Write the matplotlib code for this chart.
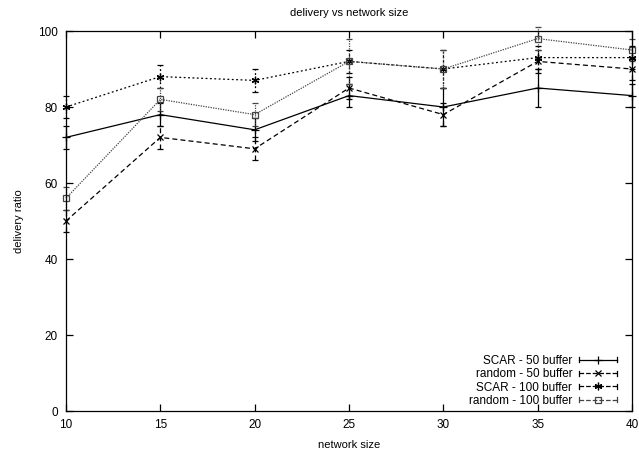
import matplotlib
matplotlib.use("Agg")
import matplotlib.pyplot as plt
from matplotlib.lines import Line2D
from matplotlib.legend_handler import HandlerBase

plt.rcParams['font.family'] = ['Liberation Sans', 'DejaVu Sans']

network_size = [10, 15, 20, 25, 30, 35, 40]
scar_50 = [72, 78, 74, 83, 80, 85, 83]
scar_50_err = [3, 3, 3, 3, 5, 5, 3]
random_50 = [50, 72, 69, 85, 78, 92, 90]
random_50_err = [3, 3, 3, 3, 3, 3, 3]
scar_100 = [80, 88, 87, 92, 90, 93, 93]
scar_100_err = [3, 3, 3, 3, 5, 3, 3]
random_100 = [56, 82, 78, 92, 90, 98, 95]
random_100_err = [3, 3, 3, 6, 5, 3, 3]
labels = ["SCAR - 50 buffer", "random - 50 buffer", "SCAR - 100 buffer", "random - 100 buffer"]


class GnuplotErrHandler(HandlerBase):
    def create_artists(self, legend, orig_handle, xdescent, ydescent, width, height, fontsize, trans):
        y = height / 2 - ydescent
        x0, x1 = -xdescent, -xdescent + width
        props = dict(color=orig_handle.get_color(), linewidth=orig_handle.get_linewidth(),
                     linestyle=orig_handle.get_linestyle(), transform=trans)
        line = Line2D([x0, x1], [y, y], **props)
        cap_h = height * 0.3
        c1 = Line2D([x0, x0], [y - cap_h, y + cap_h], color=orig_handle.get_color(),
                    linewidth=orig_handle.get_linewidth(), transform=trans)
        c2 = Line2D([x1, x1], [y - cap_h, y + cap_h], color=orig_handle.get_color(),
                    linewidth=orig_handle.get_linewidth(), transform=trans)
        mk = Line2D([(x0 + x1) / 2], [y], marker=orig_handle.get_marker(),
                    markersize=orig_handle.get_markersize(), markerfacecolor='none',
                    markeredgecolor=orig_handle.get_color(),
                    markeredgewidth=orig_handle.get_markeredgewidth(),
                    linestyle='none', transform=trans)
        return [line, c1, c2, mk]


fig = plt.figure(figsize=(6.39, 4.55), dpi=100)
ax = fig.add_axes([66/639, 1-411/455, (632-66)/639, (411-31)/455])

series = [
    (scar_50, scar_50_err, '-', '+', 'black', 6),
    (random_50, random_50_err, (0, (4, 2.5)), 'x', 'black', 4.5),
    (scar_100, scar_100_err, (0, (1.5, 2)), (6, 2, 0), 'black', 5.5),
    (random_100, random_100_err, (0, (1, 1)), 's', '#444444', 5),
]
proxies = []
for (vals, err, ls, mk, col, ms), lab in zip(series, labels):
    eb = ax.errorbar(network_size, vals, yerr=err, color=col, linestyle=ls, linewidth=0.9,
                     marker=mk, markersize=ms, markerfacecolor='none', markeredgewidth=0.9,
                     capsize=2.5, elinewidth=0.9, capthick=0.9, clip_on=False)
    for bl in eb[2]:
        bl.set_linestyle(ls)
    proxies.append(Line2D([], [], color=col, linestyle=ls, linewidth=0.9, marker=mk,
                          markersize=ms, markeredgewidth=0.9))

ax.set_xlim(10, 40)
ax.set_ylim(0, 100)
ax.set_xticks([10, 15, 20, 25, 30, 35, 40])
ax.set_yticks([0, 20, 40, 60, 80, 100])
ax.tick_params(direction='in', top=True, right=True, length=5, width=0.9, labelsize=8.5, pad=6)
for s in ax.spines.values():
    s.set_linewidth(0.9)

ax.set_title("delivery vs network size", fontsize=8, pad=11)
ax.set_xlabel("network size", fontsize=8, labelpad=6)
ax.set_ylabel("delivery ratio", fontsize=8, labelpad=10)

leg = ax.legend(proxies, labels, loc='lower right', markerfirst=False, frameon=False, fontsize=8.5,
                handlelength=3.2, labelspacing=0.12, handletextpad=0.6,
                borderpad=0, borderaxespad=0,
                bbox_to_anchor=((617 - 66) / 566, 4 / 380),
                handler_map={Line2D: GnuplotErrHandler()})

fig.savefig("out.png", dpi=100)
